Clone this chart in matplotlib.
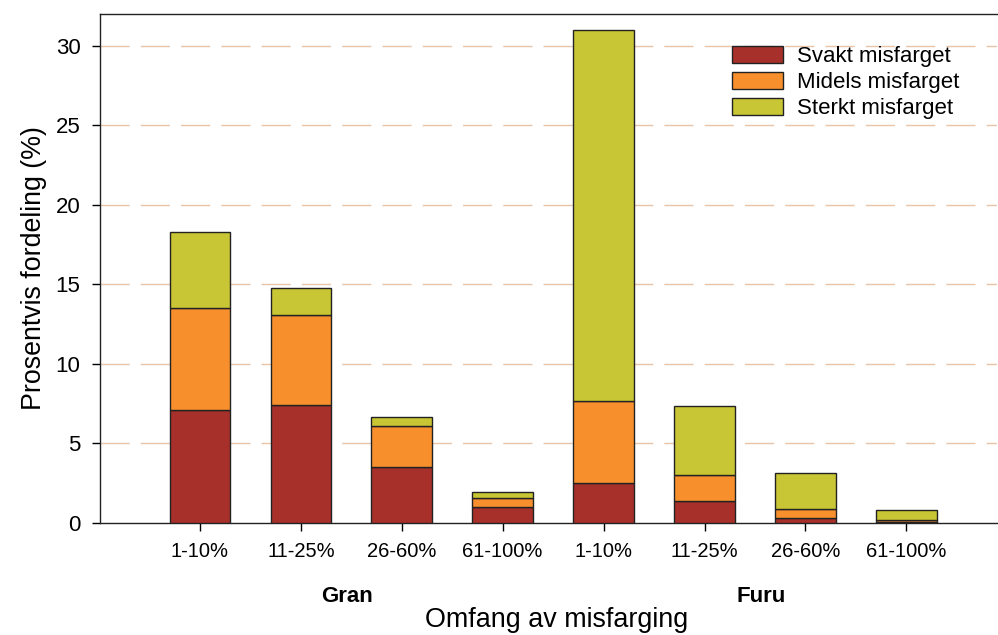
import matplotlib
matplotlib.use("Agg")
import matplotlib.pyplot as plt
import numpy as np
from matplotlib.transforms import blended_transform_factory

plt.rcParams['font.family'] = ['Liberation Sans', 'DejaVu Sans']

categories = ["1-10%", "11-25%", "26-60%", "61-100%", "1-10%", "11-25%", "26-60%", "61-100%"]
groups = ["Gran", "Furu"]
svakt = [7.1, 7.4, 3.5, 1.0, 2.5, 1.4, 0.3, 0.05]
midels = [6.4, 5.7, 2.6, 0.6, 5.2, 1.6, 0.6, 0.15]
sterkt = [4.8, 1.7, 0.55, 0.35, 23.3, 4.35, 2.25, 0.6]
series_names = ["Svakt misfarget", "Midels misfarget", "Sterkt misfarget"]
colors = ["#a8302a", "#f7902c", "#c8c634"]

fig = plt.figure(figsize=(9.98, 6.35), dpi=100)
ax = fig.add_axes([0.1002, 0.1764, 0.8990, 0.8016])

x = np.arange(len(categories))
width = 0.6
bottom = np.zeros(len(categories))
for vals, name, c in zip([svakt, midels, sterkt], series_names, colors):
    ax.bar(x, vals, width, bottom=bottom, color=c, edgecolor="#222222",
           linewidth=1.0, label=name, zorder=3)
    bottom += np.array(vals)

ax.set_xlim(-0.99, 7.9)
ax.set_ylim(0, 32)
ax.set_yticks([0, 5, 10, 15, 20, 25, 30])
ax.set_xticks(x)
ax.set_xticklabels(categories, fontsize=14.5)
ax.tick_params(axis='y', labelsize=16, length=6, width=1, direction='out', pad=8)
ax.tick_params(axis='x', length=6, width=1, direction='out', pad=8)

for yv in [5, 10, 15, 20, 25, 30]:
    ax.axhline(yv, color="#e8c4a8", linewidth=1.0, linestyle=(0, (21, 8)), zorder=1)

for s in ["left", "bottom", "top"]:
    ax.spines[s].set_linewidth(1.0)
    ax.spines[s].set_color("#222222")
ax.spines["right"].set_visible(False)

ax.set_ylabel("Prosentvis fordeling (%)", fontsize=19.3, labelpad=6)

trans = blended_transform_factory(ax.transData, fig.transFigure)
ax.text(1.46, 1 - 597 / 635, groups[0], transform=trans, ha="center", va="center",
        fontsize=16, fontweight="bold")
ax.text(5.56, 1 - 597 / 635, groups[1], transform=trans, ha="center", va="center",
        fontsize=16, fontweight="bold")
fig.text(556.5 / 998, 1 - 620 / 635, "Omfang av misfarging", ha="center", va="center",
         fontsize=19.4)

leg = ax.legend(loc="upper left", bbox_to_anchor=(0.704, 0.937), frameon=False,
                fontsize=16, handlelength=2.3, handleheight=0.77,
                labelspacing=0.23, handletextpad=0.63, borderaxespad=0, borderpad=0)

fig.savefig("out.png", dpi=100)
